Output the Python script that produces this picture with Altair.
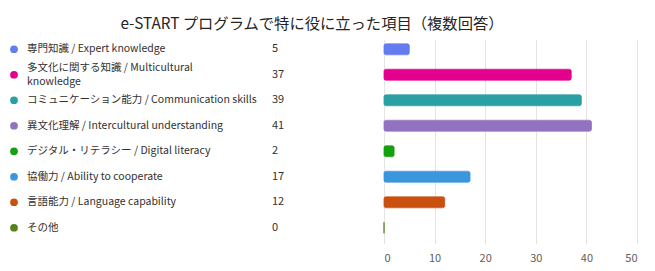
import altair as alt
import pandas as pd

title_text = "e-START プログラムで特に役に立った項目（複数回答）"

labels = [
    "専門知識 / Expert knowledge",
    "多文化に関する知識 / Multicultural\nknowledge",
    "コミュニケーション能力 / Communication skills",
    "異文化理解 / Intercultural understanding",
    "デジタル・リテラシー / Digital literacy",
    "協働力 / Ability to cooperate",
    "言語能力 / Language capability",
    "その他",
]
values = [5, 37, 39, 41, 2, 17, 12, 0]
colors = ["#637CEF", "#E3008C", "#2AA0A4", "#9373C0", "#13A10E", "#3A96DD", "#CA5010", "#57811B"]
x_ticks = [0, 10, 20, 30, 40, 50]

df = pd.DataFrame({"item": labels, "value": values})
df["lines"] = [s.count("\n") + 1 for s in labels]
FONT = "Noto Sans CJK JP"
LH = 13.5

y_enc = alt.Y("item:N", sort=None, axis=None,
              scale=alt.Scale(range=[1.5, 205.5], paddingInner=0, paddingOuter=0))
color_scale = alt.Scale(domain=labels, range=colors)

base = alt.Chart(df)

bars = base.mark_bar(size=11, cornerRadius=2, strokeWidth=0.8).encode(
    x=alt.X("value:Q", scale=alt.Scale(domain=[0, 50], nice=False),
            axis=alt.Axis(values=x_ticks, title=None, domain=False, ticks=False,
                          grid=True, gridColor="#e4e4e4", labelColor="#605e5c",
                          labelFontSize=11, labelFont=FONT, labelPadding=7)),
    y=y_enc,
    color=alt.Color("item:N", scale=color_scale, legend=None),
    stroke=alt.Stroke("item:N", scale=color_scale, legend=None),
)

dots = base.mark_circle(size=60, opacity=1).encode(
    x=alt.value(-370),
    y=y_enc,
    color=alt.Color("item:N", scale=color_scale, legend=None),
)

names1 = base.transform_filter("datum.lines == 1").mark_text(
    align="left", baseline="middle", font=FONT, fontSize=10.5,
    color="#323130", lineBreak="\n", lineHeight=LH).encode(
    x=alt.value(-357),
    y=y_enc,
    text="item:N",
)

names2 = base.transform_filter("datum.lines == 2").mark_text(
    align="left", baseline="middle", font=FONT, fontSize=10.5, dy=-LH / 2,
    color="#323130", lineBreak="\n", lineHeight=LH).encode(
    x=alt.value(-357),
    y=y_enc,
    text="item:N",
)

nums = base.mark_text(align="left", baseline="middle", font=FONT, fontSize=11,
                      color="#323130").encode(
    x=alt.value(-112),
    y=y_enc,
    text="value:Q",
)

title = alt.Chart(pd.DataFrame({"t": [title_text]})).mark_text(
    align="center", baseline="alphabetic", font=FONT, fontSize=15.3, color="#252423"
).encode(
    x=alt.value(312 - 384),
    y=alt.value(29 - 35),
    text="t:N",
)

chart = alt.layer(bars, dots, names1, names2, nums, title).properties(
    width=253, height=210,
    autosize=alt.AutoSizeParams(type="none"),
    padding={"left": 384, "right": 18, "top": 35, "bottom": 26},
).configure_view(stroke=None).resolve_scale(y="shared")

chart.save("out.html", embed_options={"renderer": "svg", "actions": False})
